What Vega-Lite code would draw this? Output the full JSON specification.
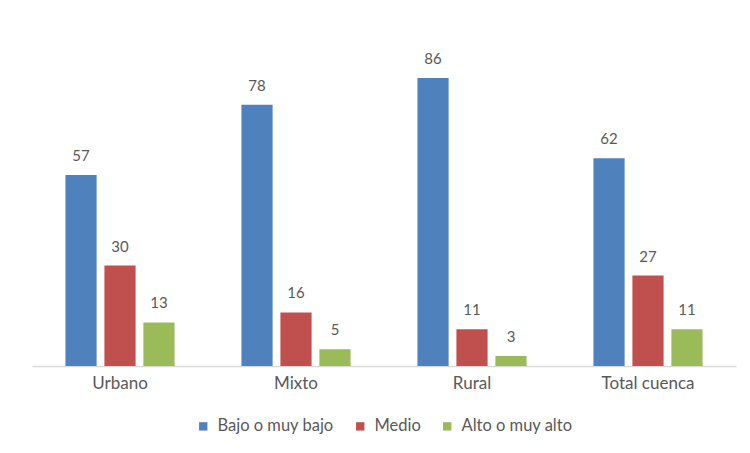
{
  "$schema": "https://vega.github.io/schema/vega-lite/v6.json",
  "width": 704,
  "height": 335,
  "autosize": {"type": "none"},
  "padding": {"left": 32, "top": 31, "right": 14, "bottom": 87},
  "background": "white",
  "config": {
    "view": {"stroke": null},
    "font": "Lato",
    "text": {"font": "Lato"}
  },
  "data": {
    "values": [
      {"zona": "Urbano", "nivel": "Bajo o muy bajo", "valor": 57},
      {"zona": "Urbano", "nivel": "Medio", "valor": 30},
      {"zona": "Urbano", "nivel": "Alto o muy alto", "valor": 13},
      {"zona": "Mixto", "nivel": "Bajo o muy bajo", "valor": 78},
      {"zona": "Mixto", "nivel": "Medio", "valor": 16},
      {"zona": "Mixto", "nivel": "Alto o muy alto", "valor": 5},
      {"zona": "Rural", "nivel": "Bajo o muy bajo", "valor": 86},
      {"zona": "Rural", "nivel": "Medio", "valor": 11},
      {"zona": "Rural", "nivel": "Alto o muy alto", "valor": 3},
      {"zona": "Total cuenca", "nivel": "Bajo o muy bajo", "valor": 62},
      {"zona": "Total cuenca", "nivel": "Medio", "valor": 27},
      {"zona": "Total cuenca", "nivel": "Alto o muy alto", "valor": 11}
    ]
  },
  "encoding": {
    "x": {
      "field": "zona", "type": "nominal",
      "sort": ["Urbano", "Mixto", "Rural", "Total cuenca"],
      "scale": {"paddingInner": 0.38, "paddingOuter": 0.19},
      "axis": {
        "title": null, "labelAngle": 0, "ticks": false,
        "domainColor": "#d9d9d9", "domainWidth": 1.5,
        "labelColor": "#595959", "labelFontSize": 17, "labelPadding": 9,
        "labelFont": "Lato"
      }
    },
    "xOffset": {
      "field": "nivel", "type": "nominal",
      "sort": ["Bajo o muy bajo", "Medio", "Alto o muy alto"],
      "scale": {"paddingInner": 0.2, "paddingOuter": 0}
    },
    "y": {
      "field": "valor", "type": "quantitative",
      "scale": {"domain": [0, 100]},
      "axis": null
    }
  },
  "layer": [
    {
      "mark": {"type": "bar"},
      "encoding": {
        "color": {
          "field": "nivel", "type": "nominal",
          "sort": ["Bajo o muy bajo", "Medio", "Alto o muy alto"],
          "scale": {
            "domain": ["Bajo o muy bajo", "Medio", "Alto o muy alto"],
            "range": ["#4F81BD", "#C0504D", "#9BBB59"]
          },
          "legend": {
            "title": null, "orient": "none", "direction": "horizontal",
            "legendX": 163, "legendY": 387,
            "symbolType": "square", "symbolSize": 70,
            "labelFontSize": 16.5, "labelColor": "#595959", "labelFont": "Lato",
            "columnPadding": 18, "labelOffset": 6
          }
        }
      }
    },
    {
      "mark": {"type": "text", "baseline": "bottom", "dy": -11, "fontSize": 15, "color": "#595959"},
      "encoding": {
        "text": {"field": "valor", "type": "quantitative"}
      }
    }
  ]
}
